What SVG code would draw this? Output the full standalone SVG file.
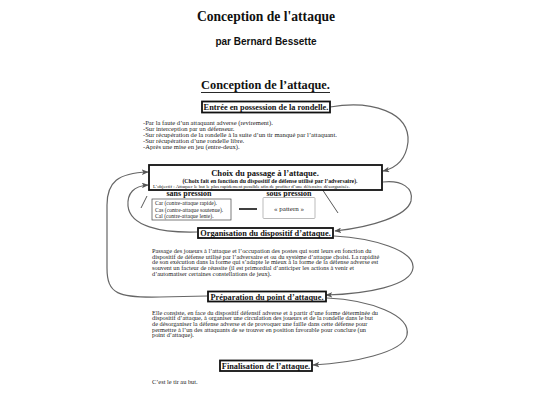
<svg xmlns="http://www.w3.org/2000/svg" width="540" height="405" viewBox="0 0 540 405">
<defs>
<style>
.serif{font-family:"Liberation Serif","Times New Roman",serif;fill:#111}
.b{font-weight:bold}
.body{font-family:"Liberation Serif","Times New Roman",serif;font-size:6.35px;fill:#222}
.box{fill:#fff;stroke:#111;stroke-width:1.8}
.lbl{font-family:"Liberation Serif","Times New Roman",serif;font-weight:bold;font-size:8.3px;fill:#111;text-anchor:middle}
.conn{fill:none;stroke:#666;stroke-width:1.2}
</style>
<marker id="ah" viewBox="0 0 10 8" refX="9" refY="4" markerWidth="7" markerHeight="5.6" markerUnits="userSpaceOnUse" orient="auto">
<path d="M0,0 L10,4 L0,8 L2.5,4 z" fill="#555"/>
</marker>
</defs>
<rect width="540" height="405" fill="#fff"/>

<g id="header">
<text class="serif b" x="266" y="21" font-size="13.6" text-anchor="middle">Conception de l'attaque</text>
<text x="266" y="45" font-family="Liberation Sans, Arial, sans-serif" font-weight="bold" font-size="10" fill="#111" text-anchor="middle">par Bernard Bessette</text>
<text class="serif b" x="265.5" y="89" font-size="12.3" text-anchor="middle">Conception de l’attaque.</text>
<line x1="201" y1="92.5" x2="330" y2="92.5" stroke="#111" stroke-width="0.9"/>
</g>

<g id="connectors">
<path class="conn" d="M330,107 C372,100 410,112 408,142 C406,160 396,168 383,171" marker-end="url(#ah)"/>
<path class="conn" d="M383,182 C402,180 414,188 411,201 C407,216 372,227 335,231" marker-end="url(#ah)"/>
<path class="conn" d="M334,236 C372,238 415,250 413,268 C411,286 366,294 326,295" marker-end="url(#ah)"/>
<path class="conn" d="M327,298 C370,300 411,315 407,335 C403,353 352,363 313,365" marker-end="url(#ah)"/>
<path class="conn" d="M197,232 C160,233 130,226 128,206 C127,193 134,186 148,185" marker-end="url(#ah)"/>
<path class="conn" d="M207,296 L160,297 C118,298 107,294 107,268 L107,205 C107,182 118,173 148,172" marker-end="url(#ah)"/>
<line x1="147" y1="196" x2="141" y2="208" stroke="#111" stroke-width="0.7"/>
<line x1="322" y1="189" x2="338" y2="213" stroke="#111" stroke-width="0.7"/>
<line x1="239" y1="209" x2="257" y2="209" stroke="#111" stroke-width="1.6"/>
</g>

<g id="entree">
<rect class="box" x="202" y="101.5" width="128" height="11"/>
<text class="lbl" x="266" y="110.3">Entrée en possession de la rondelle.</text>
</g>

<g id="entree-text" class="body" style="font-size:6.6px">
<text x="143" y="125">-Par la faute d’un attaquant adverse (revirement).</text>
<text x="143" y="131">-Sur interception par un défenseur.</text>
<text x="143" y="137">-Sur récupération de la rondelle à la suite d’un tir manqué par l’attaquant.</text>
<text x="143" y="143">-Sur récupération d’une rondelle libre.</text>
<text x="143" y="149">-Après une mise en jeu (entre-deux).</text>
</g>

<g id="choix">
<rect class="box" x="149" y="165" width="233" height="25"/>
<text class="lbl" x="265" y="176" style="font-size:8.6px">Choix du passage à l’attaque.</text>
<text class="serif b" x="270" y="183" font-size="5.8" text-anchor="middle">(Choix fait en fonction du dispositif de défense utilisé par l’adversaire).</text>
<text class="serif" x="153" y="188.3" font-size="4.9">L’objectif : Attaquer le but le plus rapidement possible afin de profiter d’une défensive désorganisée.</text>
</g>

<g id="sans-pression">
<text class="serif b" x="189" y="196" font-size="8" text-anchor="middle">sans pression</text>
<rect x="152" y="199" width="79" height="21" fill="#fff" stroke="#444" stroke-width="0.7"/>
<text class="body" x="155" y="205" style="font-size:5.6px">Car (contre-attaque rapide).</text>
<text class="body" x="155" y="211.5" style="font-size:5.6px">Cas (contre-attaque soutenue).</text>
<text class="body" x="155" y="218" style="font-size:5.6px">Cal (contre-attaque lente).</text>
</g>

<g id="sous-pression">
<text class="serif b" x="289" y="196" font-size="8" text-anchor="middle">sous pression</text>
<rect x="263" y="197.5" width="52" height="21" rx="1" fill="#fff" stroke="#aaa" stroke-width="0.8"/>
<text class="body" x="289" y="210.5" style="font-size:7px" text-anchor="middle">« pattern »</text>
</g>

<g id="organisation">
<rect class="box" x="198" y="228" width="135" height="10"/>
<text class="lbl" x="265.5" y="236">Organisation du dispositif d’attaque.</text>
</g>

<g id="organisation-text" class="body">
<text x="152" y="253">Passage des joueurs à l’attaque et l’occupation des postes qui sont leurs en fonction du</text>
<text x="152" y="258.7">dispositif de défense utilisé par l’adversaire et ou du système d’attaque choisi.  La rapidité</text>
<text x="152" y="264.4">de son exécution dans la forme qui s’adapte le mieux à la forme de la défense adverse est</text>
<text x="152" y="270.1">souvent un facteur de réussite (il est primordial d’anticiper les actions à venir et</text>
<text x="152" y="275.8">d’automatiser certaines constellations de jeux).</text>
</g>

<g id="preparation">
<rect class="box" x="208" y="291.5" width="118" height="10"/>
<text class="lbl" x="267" y="299.5">Préparation du point d’attaque.</text>
</g>

<g id="preparation-text" class="body">
<text x="152" y="314.5">Elle consiste, en face du dispositif défensif adverse et à partir d’une forme déterminée du</text>
<text x="152" y="320.2">dispositif d’attaque, à organiser une circulation des joueurs et de la rondelle dans le but</text>
<text x="152" y="325.9">de désorganiser la défense adverse et de provoquer une faille dans cette défense pour</text>
<text x="152" y="331.6">permettre à l’un des attaquants de se trouver en position favorable pour conclure (un</text>
<text x="152" y="337.3">point d’attaque).</text>
</g>

<g id="finalisation">
<rect class="box" x="220" y="360.5" width="92" height="10.5"/>
<text class="lbl" x="266" y="369">Finalisation de l’attaque.</text>
</g>

<g id="finalisation-text" class="body">
<text x="152" y="384">C’est le tir au but.</text>
</g>
</svg>
